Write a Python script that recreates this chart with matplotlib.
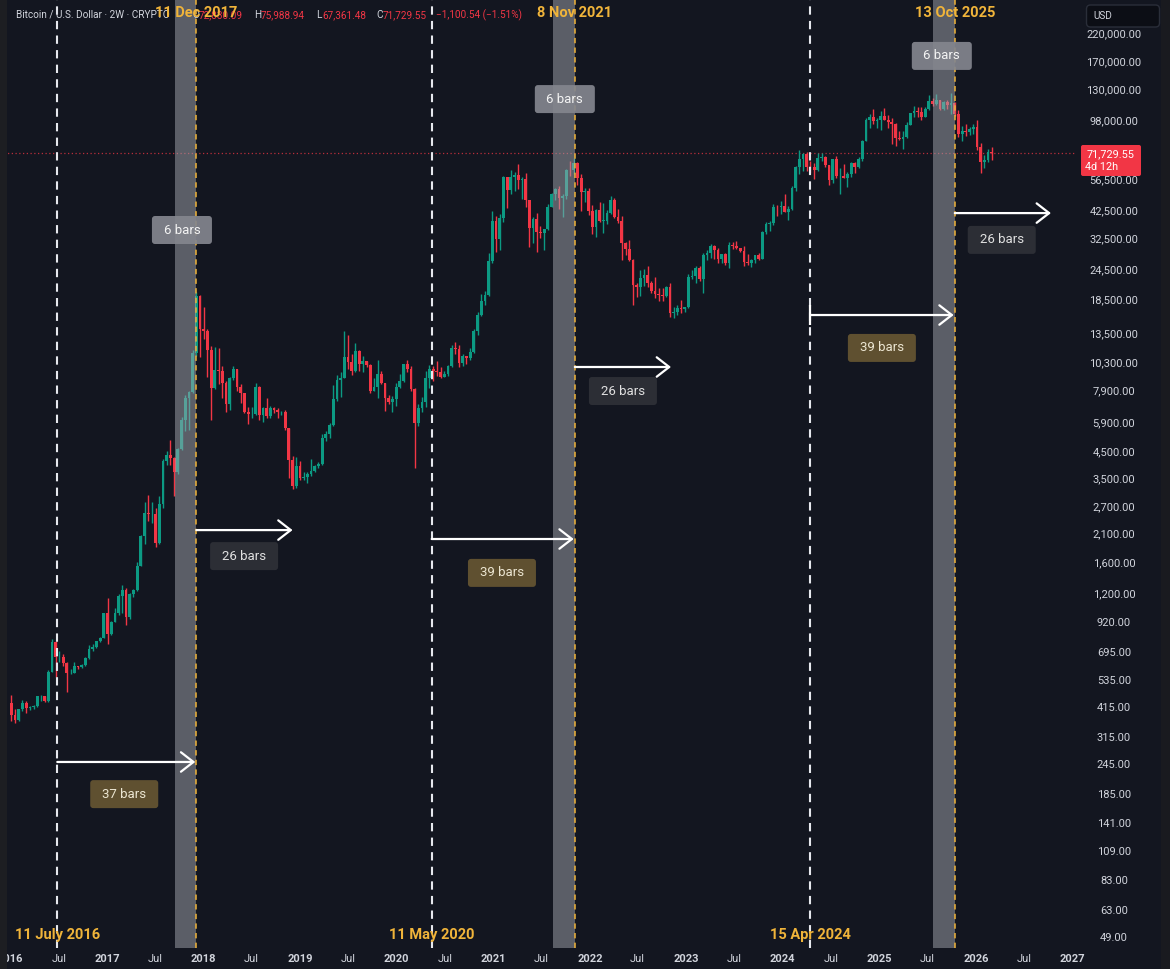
import datetime as dt
import matplotlib
matplotlib.use('Agg')
import matplotlib.pyplot as plt
from matplotlib.patches import FancyBboxPatch, Rectangle
from matplotlib.transforms import IdentityTransform
from matplotlib.ticker import NullLocator

plt.rcParams['font.family'] = ['Roboto', 'DejaVu Sans']

# ---------------- data (BTC/USD, 2-week candles) ----------------
bar_anchor = dt.date(2016, 7, 4)      # bar index 0
first_bar = dt.date(2016, 1, 4)
first_open = 430.0

close = [
    387, 369, 407, 433, 413, 418, 420, 460, 460, 440, 575, 760, 660,
    665, 624, 570, 573, 607, 602, 617, 655, 711, 730, 766, 790, 998,
    820, 920, 1000, 1170, 1240, 965, 1190, 1240, 1550, 2050, 2520, 2500, 2500,
    1920, 2740, 4100, 4350, 4230, 3700, 4600, 6000, 7400, 7800, 11200, 19100, 14000,
    13700, 11500, 8100, 9600, 9500, 8450, 7000, 8900, 9650, 8200, 7700, 6500, 6350,
    6350, 8200, 6300, 6700, 6250, 6700, 6600, 6450, 6480, 5600, 4150, 3250, 3900,
    3500, 3550, 3650, 3750, 3900, 3990, 5100, 5300, 5750, 7300, 8700, 8900, 10800,
    10300, 9500, 11400, 10150, 10450, 10000, 7900, 8200, 9200, 8500, 7400, 7100, 7300,
    8150, 8600, 10150, 9650, 8000, 5850, 6750, 7100, 8900, 9650, 9450, 9400, 9000,
    9250, 9900, 11700, 11650, 10250, 10900, 10650, 11350, 13750, 15950, 18200, 19150, 26300,
    38200, 32300, 39250, 57500, 51000, 57500, 58950, 56250, 56600, 46400, 35700, 39100, 34700,
    34250, 35400, 43800, 49300, 51750, 47250, 48200, 61500, 61300, 65500, 57250, 50100, 50800,
    41850, 36300, 42400, 38400, 38400, 41300, 46400, 39700, 38450, 31300, 29450, 26550, 21050,
    20800, 22600, 23150, 21500, 19950, 19400, 19300, 19050, 20650, 16300, 16450, 17100, 16850,
    17150, 22700, 22950, 24650, 22400, 28000, 28450, 30300, 29250, 26900, 28050, 25850, 30550,
    30300, 29800, 29050, 26100, 25900, 26550, 27950, 26850, 34500, 37050, 37450, 43800, 43600,
    43950, 41600, 42600, 52100, 63100, 68400, 71300, 63400, 63100, 61500, 68500, 69650, 64250,
    55850, 68150, 58100, 58400, 57300, 59200, 65600, 63200, 67900, 80450, 98000, 101100, 97300,
    98300, 101300, 97700, 96200, 94200, 82600, 82350, 83750, 93750, 104100, 107000, 105700, 101000,
    108200, 117300, 114200, 117500, 108250, 115300, 112200, 115100, 104000, 86000, 88500, 88000, 90000,
    92000, 76000, 66000, 67800, 72830.09, 71729.55,
]

high = [
    465, 410, 410, 445, 440, 420, 425, 462, 467, 462, 585, 780, 770,
    700, 680, 630, 590, 630, 612, 622, 660, 740, 750, 770, 795, 1000,
    1150, 930, 1050, 1190, 1290, 1260, 1200, 1250, 1600, 2070, 2800, 3000, 2800,
    2650, 2950, 4200, 4500, 4980, 4250, 4650, 6200, 7600, 7900, 11500, 19800, 19200,
    17200, 14000, 12000, 11800, 11700, 9900, 8600, 9000, 9950, 9700, 8400, 7750, 6800,
    6800, 8500, 8250, 6800, 7400, 6850, 6800, 6750, 6550, 6600, 5600, 4300, 4250,
    4100, 3700, 3700, 4200, 3950, 4050, 5300, 5450, 5850, 8300, 9100, 9400, 13800,
    13200, 11100, 12300, 11500, 10950, 10450, 10100, 8850, 10500, 9500, 8500, 7600, 7500,
    8450, 9200, 10150, 10500, 9950, 8100, 7000, 7450, 9450, 10000, 9900, 10400, 9800,
    9450, 10000, 12100, 12450, 12100, 11100, 10950, 11700, 14000, 16400, 19450, 19900, 28400,
    41950, 40000, 40900, 58350, 57500, 61800, 60200, 64900, 57500, 59600, 46650, 39900, 41300,
    36600, 35400, 44700, 49700, 51900, 52900, 49200, 62000, 67000, 69000, 66300, 59000, 51900,
    52100, 44500, 42600, 45800, 45400, 42300, 48200, 47200, 42950, 40000, 31400, 32200, 26900,
    21500, 24250, 24600, 25200, 21900, 22800, 20450, 20450, 21000, 21450, 17200, 17450, 18400,
    17150, 23350, 24250, 25250, 25100, 28400, 29200, 31000, 30500, 29800, 28250, 28450, 31400,
    31500, 31800, 29800, 30200, 28150, 26900, 27950, 28550, 35000, 37950, 38400, 44700, 44350,
    45900, 49000, 43850, 52800, 64000, 73800, 71800, 72700, 66900, 65500, 71950, 71950, 70200,
    64500, 68400, 70000, 62750, 65000, 60650, 66500, 66000, 69500, 81500, 99600, 104000, 108300,
    99950, 106400, 109600, 102500, 99500, 95000, 88750, 88500, 95750, 104900, 111900, 110400, 110600,
    110500, 123200, 120250, 124450, 117650, 116800, 117900, 126200, 116000, 107500, 92500, 94500, 92000,
    94800, 97800, 79000, 71000, 74500, 75988.94,
]

low = [
    365, 360, 365, 400, 395, 405, 410, 418, 440, 435, 437, 575, 550,
    630, 610, 480, 565, 570, 595, 600, 610, 650, 700, 720, 760, 790,
    750, 815, 915, 980, 1000, 890, 940, 1160, 1230, 1540, 1900, 2350, 2300,
    1840, 1900, 2650, 3950, 3950, 2970, 3650, 4550, 5400, 5500, 7700, 10900, 10800,
    12800, 9000, 6000, 8000, 8400, 7400, 6450, 6600, 8700, 7900, 7050, 6400, 5800,
    6100, 6300, 6000, 5900, 6150, 6150, 6400, 6150, 6300, 5500, 3500, 3150, 3200,
    3450, 3450, 3350, 3580, 3700, 3850, 3950, 4950, 5100, 5700, 7200, 7450, 8900,
    9700, 9100, 9400, 9500, 9350, 9850, 7700, 7850, 7350, 8400, 6550, 7000, 6450,
    6850, 8100, 8550, 9350, 7850, 3850, 5700, 6450, 6800, 8100, 8600, 9050, 8850,
    8950, 9050, 9850, 11150, 9850, 9900, 10150, 10550, 11200, 13250, 15800, 17600, 19000,
    26000, 28800, 29300, 38000, 43000, 49300, 50400, 51500, 47000, 43800, 30000, 31100, 28800,
    32700, 29300, 35200, 43500, 46400, 42800, 39600, 47100, 58000, 59500, 53500, 42000, 45600,
    40500, 34000, 32950, 38000, 34350, 37150, 40900, 39200, 37600, 26700, 28000, 26300, 17600,
    18800, 19000, 21000, 20800, 19550, 18700, 18150, 18200, 18950, 15600, 15500, 16000, 16300,
    16350, 17000, 22300, 21400, 22000, 19600, 26600, 27200, 27000, 25800, 25900, 25400, 24800,
    29550, 29550, 28600, 25200, 25400, 24950, 26000, 26550, 26800, 33950, 34800, 36850, 40250,
    40750, 41500, 38500, 42550, 50550, 59000, 60800, 61000, 59600, 56500, 60800, 67150, 63400,
    53500, 54300, 57150, 49000, 57200, 52550, 57600, 59800, 62450, 66800, 80200, 90800, 94150,
    91300, 89250, 97500, 91200, 78200, 76600, 81200, 74500, 83200, 93400, 100700, 100400, 98200,
    100400, 107500, 112000, 112650, 107300, 107250, 108700, 104000, 101500, 84000, 80600, 84500, 85000,
    86000, 74000, 60000, 62500, 66000, 67361.48,
]

last_price = 71729.55
price_ticks = [220000, 170000, 130000, 98000, 56500, 42500, 32500, 24500, 18500, 13500,
               10300, 7900, 5900, 4500, 3500, 2700, 2100, 1600, 1200, 920, 695, 535, 415,
               315, 245, 185, 141, 109, 83, 63, 49]
time_tick_dates = [dt.date(y, m, 1) for y in range(2016, 2028) for m in (1, 7)]
time_tick_labels = [str(d.year) if d.month == 1 else 'Jul' for d in time_tick_dates]

# cycle markers (bar index): start of cycle (white) and top (yellow)
cycle_start_bars = [-0.6, 100.6, 203]
cycle_start_labels = ['11 July 2016', '11 May 2020', '15 Apr 2024']
cycle_top_bars = [37, 139.3, 242]
cycle_top_labels = ['11 Dec 2017', '8 Nov 2021', '13 Oct 2025']
run_bars = [37, 39, 39]          # start -> top
after_bars = [26, 26, 26]        # top -> forward
band_bars = 6

# arrow levels (price) and label anchor positions (bar, price)
run_arrow_price = [249.5, 1986, 15960]
run_label_pos = [(17.5, 185), (119.6, 1449), (222.3, 11750)]
after_arrow_price = [2158, 9840, 41200]
after_label_pos = [(49.9, 1694), (152.3, 7870), (254.7, 32100)]
band_label_pos = [(33.1, 35200), (136.6, 119000), (238.5, 177800)]

# ---------------- styling ----------------
BG = '#131620'
UP = '#0c9a83'
DOWN = '#f23645'
YEL = '#f0b43a'
TXT = '#d1d4dc'
W, H = 1170, 969
XLIM = (-16.08, 274.5)
YLIM = (44.2, 299150)

fig = plt.figure(figsize=(W / 100, H / 100), dpi=100, facecolor=BG)
ax = fig.add_axes([0, 21 / H, 1075 / W, 948 / H])
ax.set_facecolor(BG)
ax.set_yscale('log')
for s in ax.spines.values():
    s.set_visible(False)

def bidx(d):
    return (d - bar_anchor).days / 14.0

k0 = bidx(first_bar)
n = len(close)
xs = [k0 + i for i in range(n)]
opens = [first_open] + close[:-1]

for x, o, h, l, c in zip(xs, opens, high, low, close):
    col = UP if c >= o else DOWN
    ax.vlines(x, l, h, color=col, lw=1.0, zorder=2)
    lo, hi = min(o, c), max(o, c)
    if hi / lo < 1.004:
        hi = lo * 1.004
    ax.bar(x, hi - lo, bottom=lo, width=0.75, color=col, lw=0, zorder=3)

# current price dotted line
ax.axhline(last_price, color=DOWN, lw=0.9, ls=(0, (1, 2)), alpha=0.75, zorder=1)

# bands + lines
for tb in cycle_top_bars:
    ax.axvspan(tb - band_bars + 0.2, tb, color='#a3a6af', alpha=0.5, lw=0, zorder=4)
    ax.axvline(tb, color=YEL, lw=1.1, ls=(0, (3.5, 2.8)), zorder=5)
for sb in cycle_start_bars:
    ax.axvline(sb, color='#e6e8ee', lw=1.5, ls=(0, (4, 3)), zorder=5)

# arrows
arrow_kw = dict(arrowstyle='->,head_length=0.45,head_width=0.35', color='white',
                lw=1.6, mutation_scale=20, shrinkA=0, shrinkB=0)
for sb, tb, p in zip(cycle_start_bars, cycle_top_bars, run_arrow_price):
    ax.annotate('', xy=(tb - 0.3, p), xytext=(sb, p), arrowprops=arrow_kw, zorder=6)
for tb, nb, p in zip(cycle_top_bars, after_bars, after_arrow_price):
    ax.annotate('', xy=(tb + nb, p), xytext=(tb, p), arrowprops=arrow_kw, zorder=6)
# small tick at the start of the last 39-bar arrow
ax.vlines(cycle_start_bars[2], run_arrow_price[2] / 1.1, run_arrow_price[2] * 1.1,
          color='white', lw=1.6, zorder=6)

# y axis ticks on the right
ax.yaxis.tick_right()
ax.set_yticks(price_ticks)
ax.set_yticklabels([f'{v:,.2f}' for v in price_ticks])
ax.yaxis.set_minor_locator(NullLocator())
ax.tick_params(axis='y', length=0, pad=28, labelsize=8, colors=TXT)
for lab in ax.get_yticklabels():
    lab.set_horizontalalignment('center')

ax.set_xticks([bidx(d) for d in time_tick_dates])
ax.set_xticklabels(time_tick_labels)
ax.tick_params(axis='x', length=0, pad=4, labelsize=8, colors=TXT)
for lab in ax.get_xticklabels():
    if lab.get_text() != 'Jul':
        lab.set_fontweight('bold')

# limits last (set_xticks would otherwise widen the view)
ax.set_xlim(*XLIM)
ax.set_ylim(*YLIM)

fig.canvas.draw()

def px(xb, price):
    d = ax.transData.transform((xb, price))
    return d[0], H - d[1]

def box(cx, cy, w, h, fc, alpha=1.0, r=3, ec='none', z=7):
    p = FancyBboxPatch((cx - w / 2, H - cy - h / 2), w, h,
                       boxstyle=f'round,pad=0,rounding_size={r}',
                       transform=IdentityTransform(), fc=fc, ec=ec, alpha=alpha, lw=1,
                       zorder=z)
    fig.add_artist(p)

def ftext(x, y, s, **kw):
    fig.text(x / W, 1 - y / H, s, **kw)

for (xb, p), nb in zip(run_label_pos, run_bars):
    cx, cy = px(xb, p)
    box(cx, cy, 68, 28, '#5f5030')
    ftext(cx, cy, f'{nb} bars', ha='center', va='center', fontsize=9.5, color='#ece6d2', zorder=8)
for (xb, p), nb in zip(after_label_pos, after_bars):
    cx, cy = px(xb, p)
    box(cx, cy, 68, 28, '#2c2e35')
    ftext(cx, cy, f'{nb} bars', ha='center', va='center', fontsize=9.5, color='#e0e0e0', zorder=8)
for (xb, p) in band_label_pos:
    cx, cy = px(xb, p)
    box(cx, cy, 60, 28, '#84868e', alpha=0.92)
    ftext(cx, cy, f'{band_bars} bars', ha='center', va='center', fontsize=9.5, color='#f4f4f4', zorder=8)

# date labels
for tb, lab in zip(cycle_top_bars, cycle_top_labels):
    cx, _ = px(tb, 1000)
    ftext(cx, 13, lab, ha='center', va='center', fontsize=10.5, fontweight='bold', color=YEL, zorder=9)
for sb, lab in zip(cycle_start_bars, cycle_start_labels):
    cx, _ = px(sb, 1000)
    ftext(cx, 935, lab, ha='center', va='center', fontsize=10.5, fontweight='bold', color=YEL, zorder=9)

# header
hy = 15
ftext(16, hy, 'Bitcoin / U.S. Dollar · 2W · CRYPTO', ha='left', va='center', fontsize=7.2, color=TXT)
ftext(192, hy, 'O', ha='left', va='center', fontsize=7.2, color=TXT)
ftext(199, hy, f'{close[-2]:,.2f}', ha='left', va='center', fontsize=7.2, color=DOWN)
ftext(254, hy, 'H', ha='left', va='center', fontsize=7.2, color=TXT)
ftext(261, hy, f'{high[-1]:,.2f}', ha='left', va='center', fontsize=7.2, color=DOWN)
ftext(316, hy, 'L', ha='left', va='center', fontsize=7.2, color=TXT)
ftext(322, hy, f'{low[-1]:,.2f}', ha='left', va='center', fontsize=7.2, color=DOWN)
ftext(376, hy, 'C', ha='left', va='center', fontsize=7.2, color=TXT)
ftext(383, hy, f'{close[-1]:,.2f}', ha='left', va='center', fontsize=7.2, color=DOWN)
chg = close[-1] - close[-2]
ftext(436, hy, f'{chg:,.2f} ({chg / close[-2] * 100:.2f}%)'.replace('-', '\u2212'),
      ha='left', va='center', fontsize=7.2, color=DOWN)

# price label on axis
_, py = px(0, last_price)
box(1111, py + 7, 60, 31, DOWN, r=2)
ftext(1111, py + 1, f'{last_price:,.2f}', ha='center', va='center', fontsize=7.8, color='white', zorder=8)
ftext(1085, py + 14, '4d 12h', ha='left', va='center', fontsize=7.8, color='white', zorder=8)

# USD box
box(1123, 16, 73, 22, '#0c0e15', ec='#2a2e39', r=4)
ftext(1093, 16, 'USD', ha='left', va='center', fontsize=7.2, color=TXT, zorder=8)

# screenshot frame strips at the left and right edges
fig.add_artist(Rectangle((0, 0), 7, H, transform=IdentityTransform(),
                         fc='#1d1e22', ec='none', zorder=20))
fig.add_artist(Rectangle((1161, 0), 9, H, transform=IdentityTransform(),
                         fc='#191a1f', ec='none', zorder=20))

fig.savefig('out.png', dpi=100, facecolor=BG)
